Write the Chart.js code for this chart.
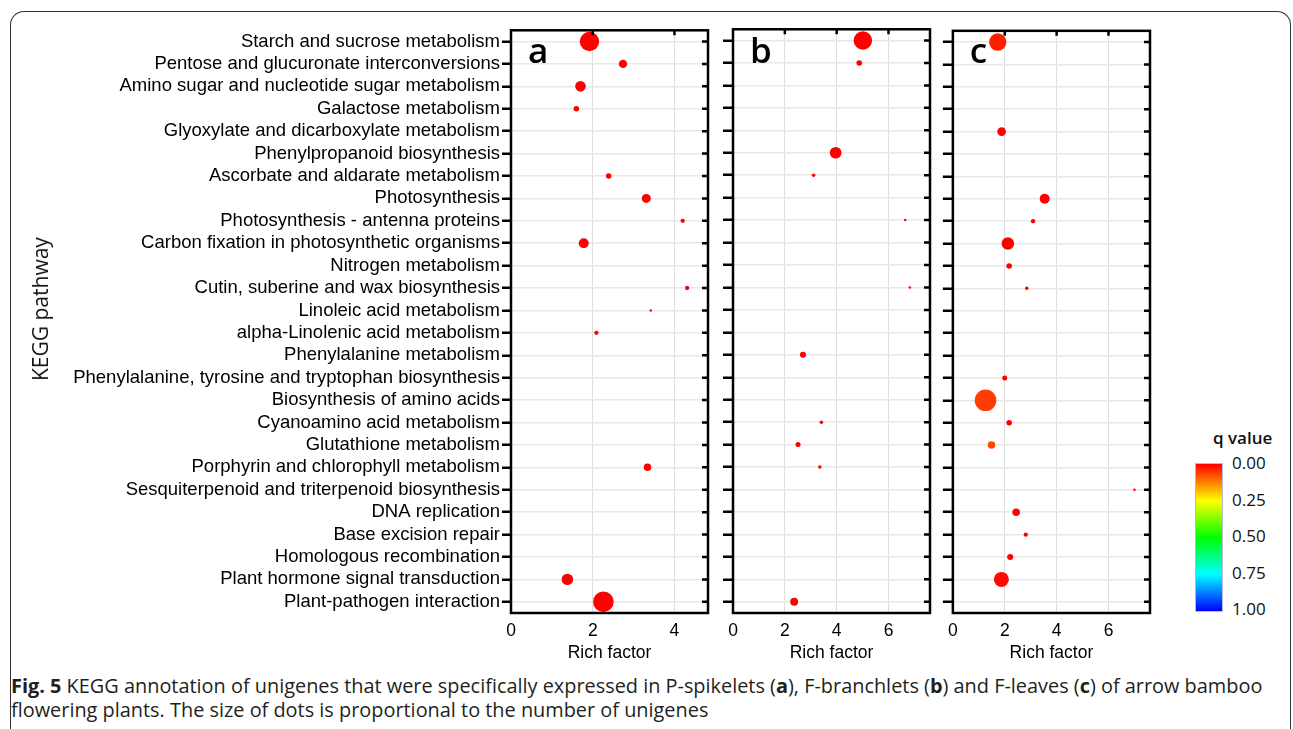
<!DOCTYPE html>
<html>
<head>
<meta charset="utf-8">
<script src="https://cdn.jsdelivr.net/npm/chart.js@4"></script>
<style>
  body { margin: 0; background: #fff; width: 1293px; height: 729px; overflow: hidden; position: relative; font-family: "Open Sans", sans-serif; }
  .box { position: absolute; left: 10px; top: 11px; width: 1279px; height: 800px; border: 1.5px solid #333; border-bottom: none; border-radius: 14px 14px 0 0; }
  canvas { position: absolute; }
  #ylab { position: absolute; left: 40px; top: 309px; transform: translate(-50%, -50%) rotate(-90deg); font-size: 21px; white-space: nowrap; color: #111; }
  .qlab { position: absolute; left: 1232px; font-size: 17px; transform: translateY(-50%); color: #111; }
  #qtitle { position: absolute; left: 1213px; top: 437px; font-size: 17px; font-weight: 600; transform: translateY(-50%); color: #111; white-space: nowrap; }
  #cbar { position: absolute; left: 1195px; top: 463px; width: 26px; height: 147px; border: 1px solid #b8bcd8;
    background: linear-gradient(to bottom, #ff0000 0%, #ff8000 12.5%, #ffff00 25%, #00ff00 50%, #00ffff 75%, #0000ff 100%); }
  #caption { position: absolute; left: 11px; top: 674px; font-size: 19.9px; line-height: 24px; color: #231f20; white-space: nowrap; }
</style>
</head>
<body>
<div class="box"></div>
<canvas id="panelA" width="720" height="648" style="left:0px;top:20px"></canvas>
<canvas id="panelB" width="222" height="648" style="left:720px;top:20px"></canvas>
<canvas id="panelC" width="222" height="648" style="left:940px;top:20px"></canvas>
<div id="ylab">KEGG pathway</div>
<div id="qtitle">q value</div>
<div id="cbar"></div>
<div id="caption"><b>Fig. 5</b> KEGG annotation of unigenes that were specifically expressed in P-spikelets (<b>a</b>), F-branchlets (<b>b</b>) and F-leaves (<b>c</b>) of arrow bamboo<br>flowering plants. The size of dots is proportional to the number of unigenes</div>
<script>
const pathways = [
  'Starch and sucrose metabolism',
  'Pentose and glucuronate interconversions',
  'Amino sugar and nucleotide sugar metabolism',
  'Galactose metabolism',
  'Glyoxylate and dicarboxylate metabolism',
  'Phenylpropanoid biosynthesis',
  'Ascorbate and aldarate metabolism',
  'Photosynthesis',
  'Photosynthesis - antenna proteins',
  'Carbon fixation in photosynthetic organisms',
  'Nitrogen metabolism',
  'Cutin, suberine and wax biosynthesis',
  'Linoleic acid metabolism',
  'alpha-Linolenic acid metabolism',
  'Phenylalanine metabolism',
  'Phenylalanine, tyrosine and tryptophan biosynthesis',
  'Biosynthesis of amino acids',
  'Cyanoamino acid metabolism',
  'Glutathione metabolism',
  'Porphyrin and chlorophyll metabolism',
  'Sesquiterpenoid and triterpenoid biosynthesis',
  'DNA replication',
  'Base excision repair',
  'Homologous recombination',
  'Plant hormone signal transduction',
  'Plant-pathogen interaction'
];

// rich factor per pathway (null = not enriched)
const richA = [1.92, 2.74, 1.70, 1.60, null, null, 2.39, 3.31, 4.20, 1.78, null, 4.31, 3.42, 2.09, null, null, null, null, null, 3.34, null, null, null, null, 1.38, 2.26];
const richB = [5.01, 4.87, null, null, null, 3.96, 3.11, null, 6.64, null, null, 6.82, null, null, 2.70, null, null, 3.41, 2.51, 3.35, null, null, null, null, null, 2.36];
const richC = [1.73, null, null, null, 1.88, null, null, 3.54, 3.09, 2.12, 2.17, 2.85, null, null, null, 2.00, 1.26, 2.17, 1.49, null, 7.00, 2.44, 2.81, 2.21, 1.87, null];

// number of unigenes (dot size)
const genesA = [60, 11, 18, 5, null, null, 5, 13, 3, 16, null, 3, 1, 3, null, null, null, null, null, 9, null, null, null, null, 21, 68];
const genesB = [55, 5, null, null, null, 22, 2, null, 1, null, null, 1, null, null, 6, null, null, 2, 4, 2, null, null, null, null, null, 10];
const genesC = [48, null, null, null, 12, null, null, 16, 3, 25, 5, 2, null, null, null, 4, 75, 5, 9, null, 1, 9, 3, 6, 36, null];

// q values
const qA = [0, 0, 0, 0, null, null, 0, 0, 0, 0, null, 0, 0, 0, null, null, null, null, null, 0, null, null, null, null, 0, 0];
const qB = [0, 0, null, null, null, 0, 0, null, 0, null, null, 0, null, null, 0, null, null, 0, 0, 0, null, null, null, null, null, 0];
const qC = [0.03, null, null, null, 0, null, null, 0, 0, 0, 0, 0, null, null, null, 0, 0.06, 0, 0.07, null, 0, 0, 0, 0, 0.01, null];

const qTicks = ['0.00', '0.25', '0.50', '0.75', '1.00'];
const xTicks = [0, 2, 4, 6];

// legenda de cores
const qTop = 462, qStep = 36.6;
qTicks.forEach((t, i) => {
  const d = document.createElement('div');
  d.className = 'qlab';
  d.style.top = (qTop + i * qStep) + 'px';
  d.textContent = t;
  document.body.appendChild(d);
});

function qColor(q) {
  const stops = [[0, [255, 0, 0]], [0.125, [255, 128, 0]], [0.25, [255, 255, 0]], [0.5, [0, 255, 0]], [0.75, [0, 255, 255]], [1, [0, 0, 255]]];
  for (let i = 1; i < stops.length; i++) {
    if (q <= stops[i][0]) {
      const [q0, c0] = stops[i - 1], [q1, c1] = stops[i];
      const f = (q - q0) / (q1 - q0);
      const c = c0.map((v, k) => Math.round(v + (c1[k] - v) * f));
      return `rgb(${c[0]},${c[1]},${c[2]})`;
    }
  }
  return 'rgb(0,0,255)';
}

const framePlugin = {
  id: 'frame',
  afterDraw(chart, args, opts) {
    const { ctx, chartArea: a, scales } = chart;
    ctx.save();
    ctx.strokeStyle = '#000';
    ctx.lineWidth = 2.5;
    ctx.strokeRect(a.left, a.top, a.right - a.left, a.bottom - a.top);
    ctx.beginPath();
    scales.y.ticks.forEach(t => {
      const y = scales.y.getPixelForValue(t.value);
      ctx.moveTo(a.right - 6, y);
      ctx.lineTo(a.right, y);
    });
    scales.x.ticks.forEach(t => {
      if (t.value === 0) return;
      const x = scales.x.getPixelForValue(t.value);
      ctx.moveTo(x, a.top);
      ctx.lineTo(x, a.top + 5);
    });
    ctx.stroke();
    ctx.font = '600 35px "Open Sans"';
    ctx.fillStyle = '#000';
    ctx.textBaseline = 'alphabetic';
    ctx.fillText(opts.letter, a.left + 17, 43);
    ctx.restore();
  }
};

function criarPainel(id, rich, genes, q, xMax, letter, showLabels, yWidth) {
  const pontos = [];
  const cores = [];
  rich.forEach((v, i) => {
    if (v === null) return;
    pontos.push({ x: v, y: i, r: 1.25 * Math.sqrt(genes[i]) });
    cores.push(qColor(q[i]));
  });

  new Chart(document.getElementById(id), {
    type: 'bubble',
    data: {
      datasets: [{
        data: pontos,
        backgroundColor: cores,
        borderWidth: 0,
        hoverBorderWidth: 0
      }]
    },
    plugins: [framePlugin],
    options: {
      responsive: false,
      animation: false,
      layout: { padding: { top: 9, right: 12, left: 0, bottom: 0 } },
      plugins: {
        legend: { display: false },
        tooltip: { enabled: false },
        frame: { letter }
      },
      scales: {
        x: {
          type: 'linear',
          min: 0,
          max: xMax,
          afterBuildTicks: s => { s.ticks = xTicks.filter(v => v <= xMax).map(v => ({ value: v })); },
          afterFit: s => { s.height = 55; },
          border: { display: false },
          grid: { color: '#dedede', lineWidth: 1, drawTicks: false },
          ticks: { padding: 8, color: '#000', font: { family: 'Liberation Sans', size: 17.5 } },
          title: { display: true, text: 'Rich factor', color: '#000', padding: { top: 0, bottom: 4 }, font: { family: 'Liberation Sans', size: 17.5 } }
        },
        y: {
          type: 'linear',
          reverse: true,
          min: -0.5,
          max: pathways.length - 0.5,
          afterBuildTicks: s => { s.ticks = pathways.map((_, i) => ({ value: i })); },
          afterFit: s => { s.width = yWidth; s.paddingTop = 0; s.paddingBottom = 0; },
          border: { display: false },
          grid: { color: '#e8e8e8', lineWidth: 1.5, tickColor: '#000', tickWidth: 2.5, tickLength: showLabels ? 9 : 10 },
          ticks: {
            autoSkip: false,
            padding: 2,
            color: '#000',
            font: { family: 'Liberation Sans', size: 18.5 },
            callback: v => showLabels ? pathways[v] : ''
          }
        }
      }
    }
  });
}

criarPainel('panelA', richA, genesA, qA, 4.82, 'a', true, 511);
criarPainel('panelB', richB, genesB, qB, 7.6, 'b', false, 13);
criarPainel('panelC', richC, genesC, qC, 7.6, 'c', false, 12);
</script>
</body>
</html>
